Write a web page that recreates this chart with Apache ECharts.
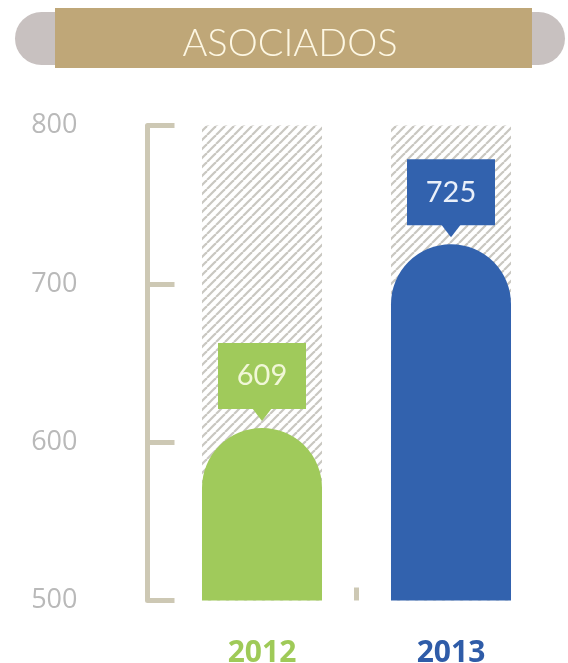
<!DOCTYPE html>
<html>
<head>
<meta charset="utf-8">
<script src="https://cdn.jsdelivr.net/npm/echarts@6/dist/echarts.min.js"></script>
<style>
  html, body { margin: 0; padding: 0; background: #ffffff; }
  #chart { width: 568px; height: 663px; }
</style>
</head>
<body>
<div id="chart"></div>
<script>
// Members per year
const categories = ['2012', '2013'];
const associates = [609, 725];
const yTicks = [500, 600, 700, 800];
const barColors = ['#a0ca5b', '#3262ae'];
const yearColors = ['#9fca58', '#2f5ca8'];
const calloutTextColors = ['#f1f7d8', '#eaf0fa'];

const yMin = yTicks[0];
const yMax = yTicks[yTicks.length - 1];
const axisColor = '#cdc8b4';

// Diagonal hatch used behind each bar
function makeHatch() {
  const s = 9;
  const c = document.createElement('canvas');
  c.width = s; c.height = s;
  const g = c.getContext('2d');
  g.strokeStyle = '#c9c7c1';
  g.lineWidth = 2.2;
  [-s, 0, s].forEach(function (o) {
    g.beginPath();
    g.moveTo(o, s);
    g.lineTo(o + s, 0);
    g.stroke();
  });
  return c;
}
const hatch = makeHatch();

const chart = echarts.init(document.getElementById('chart'), null, { renderer: 'canvas' });

const barRatio = 0.635;

const headerGraphics = [
  {
    id: 'pill',
    type: 'rect',
    shape: { x: 15, y: 12, width: 550, height: 53, r: 26.5 },
    style: { fill: '#c8c1c0' },
    z: 1
  },
  {
    id: 'band',
    type: 'rect',
    shape: { x: 55, y: 8, width: 477, height: 60 },
    style: { fill: '#bfa778' },
    z: 2
  },
  {
    id: 'title',
    type: 'text',
    x: 290,
    y: 44,
    z: 3,
    style: {
      text: 'ASOCIADOS',
      fill: '#fdf7e3',
      font: '300 38px Lato',
      align: 'center',
      verticalAlign: 'middle'
    }
  }
];

chart.setOption({
  backgroundColor: '#ffffff',
  animation: false,
  graphic: headerGraphics,
  grid: { left: 167.5, right: 22.5, top: 125.5, bottom: 62.5, outerBoundsMode: 'none', containLabel: false },
  xAxis: {
    type: 'category',
    data: categories.map(function (c, i) {
      return { value: c, textStyle: { color: yearColors[i] } };
    }),
    boundaryGap: true,
    axisLine: { show: false },
    axisTick: { show: false },
    axisLabel: {
      margin: 38,
      fontSize: 30,
      fontWeight: 'bold',
      fontFamily: 'Open Sans'
    },
    splitLine: { show: false }
  },
  yAxis: {
    type: 'value',
    min: yMin,
    max: yMax,
    interval: 100,
    position: 'left',
    offset: 20,
    axisLine: { show: true, lineStyle: { color: axisColor, width: 5 } },
    axisTick: { show: true, inside: true, length: 27, lineStyle: { color: axisColor, width: 5 } },
    axisLabel: {
      margin: 70,
      fontSize: 27,
      color: '#b9b9b9',
      fontFamily: 'Open Sans'
    },
    splitLine: { show: false }
  },
  series: [
    {
      // hatched full-range column behind each bar
      type: 'custom',
      data: categories.map(function (c, i) { return [i, yMax]; }),
      z: 1,
      renderItem: function (params, api) {
        const top = api.coord([api.value(0), api.value(1)]);
        const base = api.coord([api.value(0), yMin]);
        const w = api.size([1, 0])[0] * barRatio;
        return {
          type: 'rect',
          shape: { x: top[0] - w / 2, y: top[1], width: w, height: base[1] - top[1] },
          style: { fill: { image: hatch, repeat: 'repeat' } }
        };
      }
    },
    {
      // dome-topped bars with value callouts
      type: 'custom',
      data: associates.map(function (v, i) { return [i, v]; }),
      z: 2,
      renderItem: function (params, api) {
        const i = api.value(0);
        const v = api.value(1);
        const top = api.coord([i, v]);
        const base = api.coord([i, yMin]);
        const w = api.size([1, 0])[0] * barRatio;
        const cx = top[0];
        const tip = top[1] - 7;
        const boxW = 88, boxH = 66, triH = 12, triHalf = 10;
        const boxBottom = tip - triH;
        return {
          type: 'group',
          children: [
            {
              type: 'rect',
              shape: { x: cx - w / 2, y: top[1], width: w, height: base[1] - top[1], r: [w / 2, w / 2, 0, 0] },
              style: { fill: barColors[i] }
            },
            {
              type: 'rect',
              shape: { x: cx - boxW / 2, y: boxBottom - boxH, width: boxW, height: boxH },
              style: { fill: barColors[i] }
            },
            {
              type: 'polygon',
              shape: { points: [[cx - triHalf, boxBottom - 1], [cx + triHalf, boxBottom - 1], [cx, tip]] },
              style: { fill: barColors[i] }
            },
            {
              type: 'text',
              x: cx,
              y: boxBottom - boxH / 2,
              style: {
                text: String(v),
                fill: calloutTextColors[i],
                font: '29px Lato',
                align: 'center',
                verticalAlign: 'middle'
              }
            }
          ]
        };
      }
    }
  ]
});

// Short divider tick on the baseline between the two year columns
const c0 = chart.convertToPixel({ xAxisIndex: 0, yAxisIndex: 0 }, [0, yMin]);
const c1 = chart.convertToPixel({ xAxisIndex: 0, yAxisIndex: 0 }, [1, yMin]);
const midX = (c0[0] + c1[0]) / 2;
chart.setOption({
  graphic: headerGraphics.concat([{
    id: 'divider',
    type: 'line',
    shape: { x1: midX, y1: c0[1], x2: midX, y2: c0[1] - 13 },
    style: { stroke: axisColor, lineWidth: 5 },
    z: 3
  }])
});
</script>
</body>
</html>
